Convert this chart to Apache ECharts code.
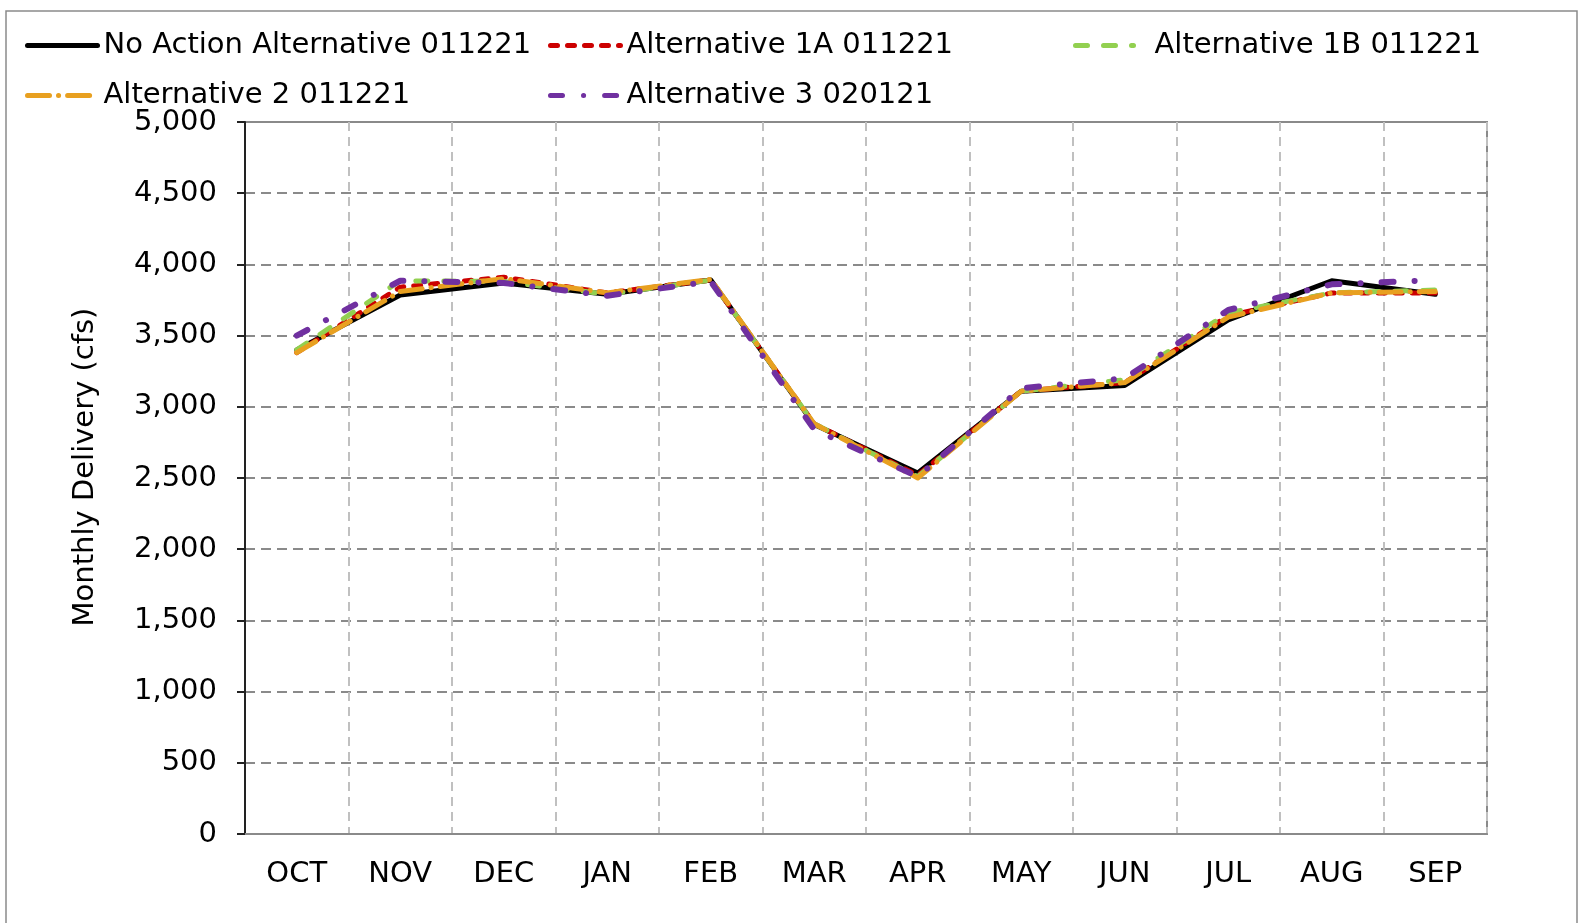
<!DOCTYPE html>
<html>
<head>
<meta charset="utf-8">
<script src="https://cdn.jsdelivr.net/npm/echarts@6/dist/echarts.min.js"></script>
<style>
  html, body { margin: 0; padding: 0; background: #fff; }
  #chart { width: 1591px; height: 923px; }
</style>
</head>
<body>
<div id="chart"></div>
<script>
// categories
const months = ['OCT', 'NOV', 'DEC', 'JAN', 'FEB', 'MAR', 'APR', 'MAY', 'JUN', 'JUL', 'AUG', 'SEP']
const yTicks = [0, 500, 1000, 1500, 2000, 2500, 3000, 3500, 4000, 4500, 5000]

// monthly delivery (cfs)
const noAction = [3400, 3785, 3870, 3790, 3890, 2875, 2535, 3110, 3150, 3610, 3885, 3790]
const alt1A = [3380, 3840, 3910, 3800, 3890, 2880, 2520, 3110, 3170, 3640, 3800, 3800]
const alt1B = [3400, 3885, 3880, 3790, 3890, 2880, 2510, 3110, 3190, 3660, 3800, 3820]
const alt2 = [3380, 3810, 3900, 3800, 3895, 2880, 2500, 3110, 3170, 3630, 3800, 3810]
const alt3 = [3500, 3885, 3870, 3780, 3880, 2840, 2510, 3130, 3200, 3680, 3860, 3890]

const names = [
	'No Action Alternative 011221',
	'Alternative 1A 011221',
	'Alternative 1B 011221',
	'Alternative 2 011221',
	'Alternative 3 020121',
]

const FONT = 'DejaVu Sans'
const FS = 29

function legendAt(name, left, top, w, gap) {
	return {
		data: [name],
		left: left,
		top: top,
		padding: 0,
		itemWidth: w || 70,
		itemHeight: 14,
		itemGap: 0,
		itemStyle: { opacity: 0 },
		lineStyle: { width: 5, cap: 'round' },
		textStyle: { fontFamily: FONT, fontSize: FS, color: '#000', padding: [0, 0, 0, gap || 1] },
	}
}

function lineSeries(name, data, color, width, dash) {
	return {
		name: name,
		type: 'line',
		data: data,
		symbol: 'none',
		color: color,
		lineStyle: { color: color, width: width, type: dash, cap: 'round', join: 'round' },
		emphasis: { disabled: true },
	}
}

let chart = echarts.init(document.getElementById('chart'))
chart.setOption({
	animation: false,
	backgroundColor: '#fff',
	graphic: [
		{
			type: 'rect',
			shape: { x: 6, y: 11, width: 1571, height: 930 },
			style: { fill: 'none', stroke: '#8a8a8a', lineWidth: 1.5 },
			silent: true,
		},
	],
	legend: [
		legendAt(names[0], 25, 31),
		legendAt(names[1], 548, 31),
		legendAt(names[2], 1073, 31, 58, 16),
		legendAt(names[3], 25, 81),
		legendAt(names[4], 548, 81),
	],
	grid: {
		left: 245,
		right: 104,
		top: 122,
		bottom: 89,
		show: true,
		borderColor: '#8a8a8a',
		borderWidth: 2,
	},
	xAxis: {
		type: 'category',
		data: months,
		boundaryGap: true,
		axisLine: { lineStyle: { color: '#8a8a8a', width: 2 } },
		axisTick: { show: false },
		axisLabel: { fontFamily: FONT, fontSize: FS, color: '#000', margin: 26 },
		splitLine: { show: true, lineStyle: { color: '#c0c0c0', width: 2, type: [9, 6] } },
	},
	yAxis: {
		type: 'value',
		min: yTicks[0],
		max: yTicks[yTicks.length - 1],
		interval: yTicks[1] - yTicks[0],
		name: 'Monthly Delivery (cfs)',
		nameLocation: 'middle',
		nameGap: 145,
		nameTextStyle: { fontFamily: FONT, fontSize: FS, color: '#000', padding: [0, 0, 0, 22] },
		axisLine: { show: true, lineStyle: { color: '#222', width: 2 } },
		axisTick: { show: true, length: 8, lineStyle: { color: '#222', width: 2 } },
		axisLabel: {
			fontFamily: FONT,
			fontSize: FS,
			color: '#000',
			margin: 28,
			formatter: function (v) {
				return v.toLocaleString('en-US')
			},
		},
		splitLine: { show: true, lineStyle: { color: '#8a8a8a', width: 2, type: [10, 6] } },
	},
	series: [
		lineSeries(names[0], noAction, '#000000', 5, 'solid'),
		lineSeries(names[1], alt1A, '#cc0000', 5, [7, 10]),
		lineSeries(names[2], alt1B, '#92d050', 5, [12, 16]),
		lineSeries(names[3], alt2, '#e8a020', 5, [22, 9, 0.1, 9]),
		lineSeries(names[4], alt3, '#7030a0', 6, [12, 21, 0.1, 21]),
	],
})
window.addEventListener('resize', function () {
	chart.resize()
})
</script>
</body>
</html>
